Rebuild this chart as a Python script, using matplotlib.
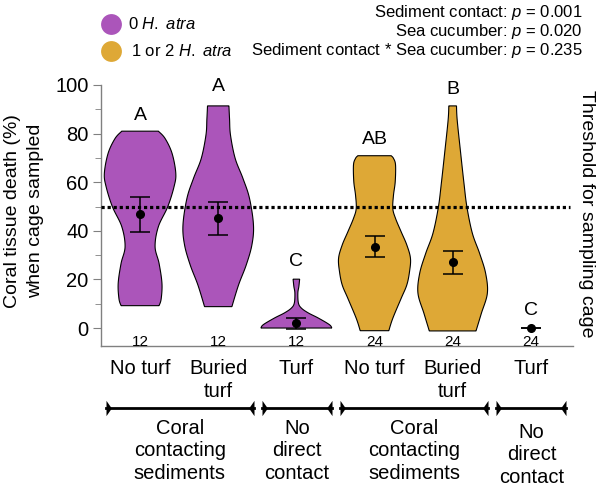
import matplotlib
matplotlib.use('Agg')
import matplotlib.pyplot as plt
import numpy as np
from matplotlib.lines import Line2D
from matplotlib.path import Path
import matplotlib.transforms as mtrans

plt.rcParams['font.family'] = ['Liberation Sans', 'DejaVu Sans']
plt.rcParams['mathtext.fontset'] = 'custom'
plt.rcParams['mathtext.rm'] = 'Liberation Sans'
plt.rcParams['mathtext.it'] = 'Liberation Sans:italic'

# ---------------- data ----------------
positions = [1, 2, 3, 4, 5, 6]
categories = ['No turf', 'Buried\nturf', 'Turf', 'No turf', 'Buried\nturf', 'Turf']
n_labels = ['12', '12', '12', '24', '24', '24']
letters = ['A', 'A', 'C', 'AB', 'B', 'C']
letter_y = [87.6, 99.3, 27.3, 77.4, 98.0, 7.4]
means = [46.8, 45.1, 1.9, 33.5, 27.0, 0.0]
se = [7.2, 6.9, 2.3, 4.3, 4.8, 0.0]
threshold = 50

# violin density profiles (y value, half width in x units)
v1_y = [9.2, 12.0, 18.4, 26.6, 33.5, 41.7, 49.9, 58.2, 63.7, 71.9, 78.0, 81.0]
v1_w = [0.243, 0.270, 0.280, 0.243, 0.192, 0.234, 0.354, 0.435, 0.457, 0.409, 0.320, 0.234]
v2_y = [8.8, 17.7, 25.9, 34.2, 42.4, 53.4, 61.6, 69.8, 79.4, 86.0, 91.4]
v2_w = [0.175, 0.260, 0.358, 0.431, 0.451, 0.400, 0.316, 0.217, 0.157, 0.145, 0.137]
v3_y = [0.0, 1.4, 4.1, 6.2, 8.2, 10.3, 14.4, 17.1, 20.1]
v3_w = [0.454, 0.422, 0.281, 0.153, 0.064, 0.026, 0.019, 0.032, 0.042]
v4_y = [-1.1, 4.0, 12.2, 17.7, 23.2, 28.7, 34.2, 39.6, 45.1, 49.2, 54.7, 60.2, 67.1, 69.8, 70.9]
v4_w = [0.183, 0.234, 0.341, 0.413, 0.448, 0.460, 0.413, 0.341, 0.269, 0.234, 0.243, 0.265, 0.269, 0.243, 0.213]
v5_y = [-1.2, 6.0, 14.3, 22.5, 30.7, 39.0, 49.7, 59.5, 73.3, 85.6, 91.4]
v5_w = [0.299, 0.367, 0.444, 0.422, 0.345, 0.252, 0.183, 0.145, 0.098, 0.058, 0.049]
violin_y = [v1_y, v2_y, v3_y, v4_y, v5_y, []]
violin_w = [v1_w, v2_w, v3_w, v4_w, v5_w, []]

group_first = [1, 3, 4, 6]
group_last = [2, 3, 5, 6]
group_labels = ['Coral\ncontacting\nsediments', 'No\ndirect\ncontact',
                'Coral\ncontacting\nsediments', 'No\ndirect\ncontact']

legend_labels = ['0 $\\mathit{H.\\ atra}$', '1 or 2 $\\mathit{H.\\ atra}$']
stats_text = ['Sediment contact: $\\mathit{p}$ = 0.001',
              'Sea cucumber: $\\mathit{p}$ = 0.020',
              'Sediment contact * Sea cucumber: $\\mathit{p}$ = 0.235']

purple = '#AB55BA'
gold = '#DEA836'
colors = [purple, purple, purple, gold, gold, gold]

W, H = 600, 488


def fpx(x, y):
    return x / W, 1 - y / H


def smooth(ys, ws, n=16):
    P = np.column_stack([ys, ws]).astype(float)
    P = np.vstack([P[0], P, P[-1]])
    out = []
    for i in range(1, len(P) - 2):
        p0, p1, p2, p3 = P[i - 1], P[i], P[i + 1], P[i + 2]
        t = np.linspace(0, 1, n, endpoint=False)[:, None]
        seg = 0.5 * ((2 * p1) + (-p0 + p2) * t + (2 * p0 - 5 * p1 + 4 * p2 - p3) * t ** 2
                     + (-p0 + 3 * p1 - 3 * p2 + p3) * t ** 3)
        out.append(seg)
    out.append(P[-2][None])
    return np.vstack(out)


fig = plt.figure(figsize=(6, 4.88), dpi=100)
l, b = fpx(101, 346)
r, t = fpx(573, 85)
ax = fig.add_axes([l, b, r - l, t - b])
ax.set_xlim(0.5, 6.54)
ax.set_ylim(-7.4, 100)

# violins
for pos, ys, ws, c in zip(positions, violin_y, violin_w, colors):
    if len(ys) == 0:
        continue
    pts = smooth(ys, ws)
    yy, ww = pts[:, 0], np.clip(pts[:, 1], 0.005, None)
    xs = np.concatenate([pos + ww, (pos - ww)[::-1]])
    ysf = np.concatenate([yy, yy[::-1]])
    ax.fill(xs, ysf, facecolor=c, edgecolor='black', linewidth=0.8, zorder=2)

# threshold line
ax.hlines(threshold, 0.5, 6.5, colors='black', linewidth=2.3,
          linestyles=(0, (1, 0.9)), zorder=3)

# means +- se
ax.errorbar(positions, means, yerr=se, fmt='o', color='black', ms=5.5,
            capsize=7, elinewidth=1.1, capthick=1.1, zorder=4, clip_on=False)

# letters and n
for pos, lt, ly, nl in zip(positions, letters, letter_y, n_labels):
    ax.text(pos, ly, lt, ha='center', va='center', fontsize=14, clip_on=False)
    ax.text(pos, -5.6, nl, ha='center', va='center', fontsize=11)

# axes styling
for s in ['top', 'right']:
    ax.spines[s].set_visible(False)
for s in ['left', 'bottom']:
    ax.spines[s].set_color('#808080')
    ax.spines[s].set_linewidth(1.0)
ax.spines['left'].set_bounds(-7.4, 100)
ax.set_yticks([0, 20, 40, 60, 80, 100])
ax.set_yticks([10, 30, 50, 70, 90], minor=True)
ax.tick_params(axis='y', which='major', length=6, color='#808080', labelsize=14.5, pad=3)
ax.tick_params(axis='y', which='minor', length=4, color='#808080')
ax.set_xticks(positions)
ax.set_xticklabels(categories, fontsize=14.5, linespacing=1.3)
ax.tick_params(axis='x', length=0, pad=9)

# y label and right label
fig.text(*fpx(24, 211), 'Coral tissue death (%)\nwhen cage sampled', rotation=90,
         ha='center', va='center', fontsize=14, linespacing=1.5)
fig.text(*fpx(587, 214), 'Threshold for sampling cage', rotation=270,
         ha='center', va='center', fontsize=14)

# group brackets
btrans = mtrans.blended_transform_factory(ax.transData, fig.transFigure)
yb = fpx(0, 408)[1]
tri_left = Path([(0, -1), (0, 1), (0.7, 0), (0, -1)])
tri_right = Path([(0, -1), (0, 1), (-0.7, 0), (0, -1)])
for i, (g0, g1, gl) in enumerate(zip(group_first, group_last, group_labels)):
    x0, x1 = g0 - 0.44, g1 + 0.455
    ax.add_line(Line2D([x0, x1], [yb, yb], color='black', lw=2.0,
                       transform=btrans, clip_on=False))
    ax.add_line(Line2D([x0], [yb], marker=tri_left, ms=11, color='black', mew=0,
                       transform=btrans, clip_on=False))
    ax.add_line(Line2D([x1], [yb], marker=tri_right, ms=11, color='black', mew=0,
                       transform=btrans, clip_on=False))
    ycen = 451 if i < 3 else 455
    ax.text((x0 + x1) / 2, fpx(0, ycen)[1], gl, transform=btrans, ha='center',
            va='center', fontsize=14.5, linespacing=1.22, clip_on=False)

# legend
for yy, c, lab, tx in zip([24, 51], [purple, gold], legend_labels, [128, 131]):
    fig.add_artist(Line2D([fpx(111, yy)[0]], [fpx(111, yy)[1]], marker='o', ms=15,
                          color=c, mew=0, transform=fig.transFigure))
    fig.text(*fpx(tx, yy), lab, ha='left', va='center', fontsize=12)

for yy, s in zip([12.7, 31.7, 50], stats_text):
    fig.text(*fpx(583, yy), s, ha='right', va='center', fontsize=12)

fig.savefig('out.png', dpi=100)
